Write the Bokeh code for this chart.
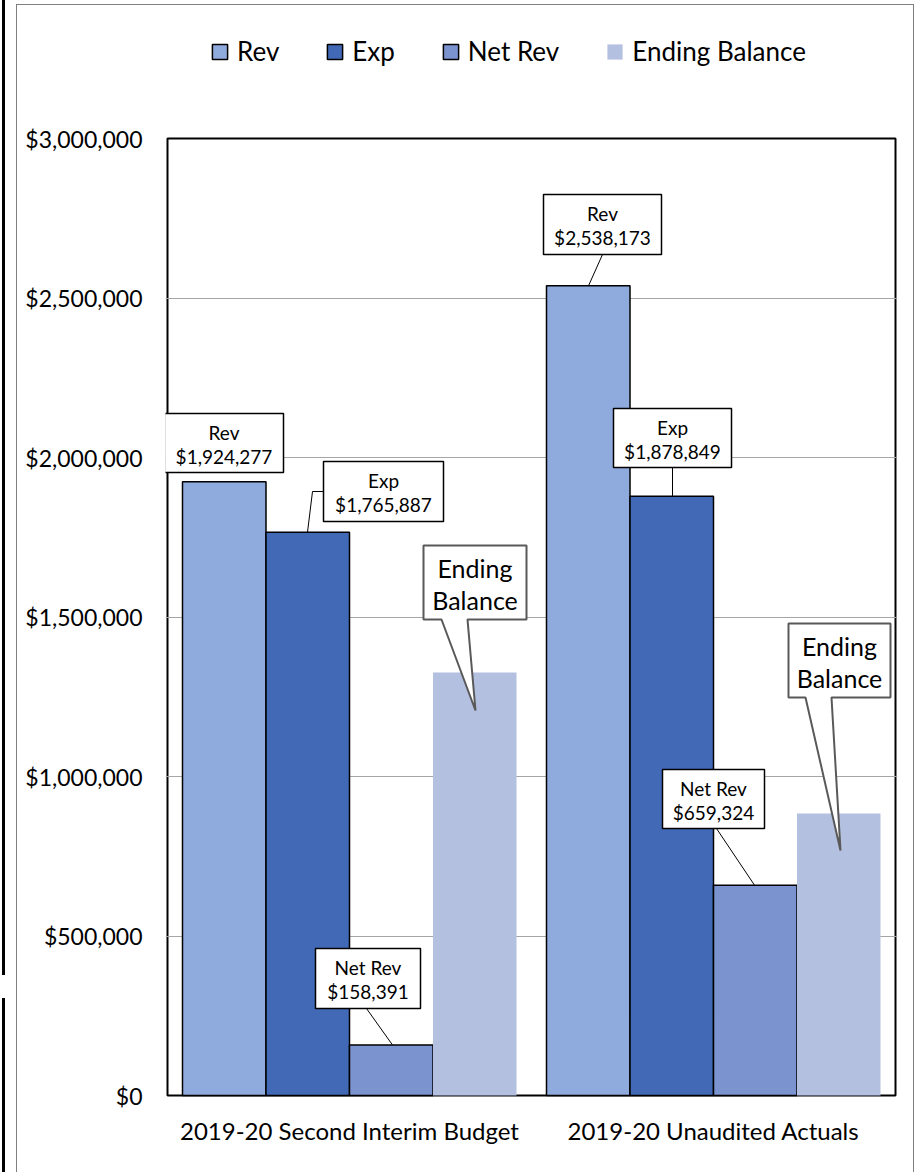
from bokeh.plotting import figure
from bokeh.models import (Range1d, FixedTicker, NumeralTickFormatter, Legend, LegendItem,
                          InlineStyleSheet)
from bokeh.core.properties import value
from bokeh.embed import file_html
from bokeh.resources import INLINE

# ---------------- data ----------------
categories = ["2019-20 Second Interim Budget", "2019-20 Unaudited Actuals"]
series = ["Rev", "Exp", "Net Rev", "Ending Balance"]
rev = [1924277, 2538173]
exp = [1765887, 1878849]
net_rev = [158391, 659324]
ending_balance = [1326000, 884000]
y_ticks = [0, 500000, 1000000, 1500000, 2000000, 2500000, 3000000]
colors = ["#8FAADC", "#4169B6", "#7B94D0", "#B4C0E0"]

# ---------------- layout ----------------
W, H = 917, 1172
PL, PR, PT, PB = 167, 895, 138, 1095      # plot-area box (data 0..2, 0..3M)
FL, FR, FT, FB = 165, 897, 0, 1097        # bokeh frame (a bit larger)
YMAX = 3000000
FONT = "Lato"
kx = (PR - PL) / 2.0
ky = (PB - PT) / YMAX

def dx(px):
    return (px - PL) / kx

def dy(py):
    return (PB - py) / ky

p = figure(width=W, height=H,
           x_range=Range1d(dx(FL), dx(FR)), y_range=Range1d(dy(FB), dy(FT)),
           output_backend="svg", toolbar_location=None,
           min_border_left=FL, min_border_right=W - FR,
           min_border_top=FT, min_border_bottom=H - FB)
p.background_fill_color = "white"
p.border_fill_color = "white"
p.outline_line_color = None

centers = [0.5 + i for i in range(len(categories))]
bw = 0.2294
all_vals = [rev, exp, net_rev, ending_balance]

# plot area outline
p.quad(left=[0], right=[2], bottom=[0], top=[YMAX], fill_color=None,
       line_color="black", line_width=2, level="underlay")

renderers = []
for k, (name, vals, col) in enumerate(zip(series, all_vals, colors)):
    xs = [c + (k - 1.5) * bw for c in centers]
    r = p.vbar(x=xs, top=vals, width=bw, fill_color=col,
               line_color=None if name == "Ending Balance" else "black",
               line_width=1.5)
    renderers.append(r)

# axes
p.yaxis.ticker = FixedTicker(ticks=y_ticks)
p.yaxis.formatter = NumeralTickFormatter(format="$0,0")
p.yaxis.major_label_text_font = FONT
p.yaxis.major_label_text_font_size = "23px"
p.yaxis.major_label_text_color = "black"
p.yaxis.major_label_standoff = 23
p.yaxis.major_tick_line_color = None
p.yaxis.minor_tick_line_color = None
p.yaxis.axis_line_color = None
p.yaxis.major_tick_out = 0
p.yaxis.major_tick_in = 0

p.xaxis.ticker = FixedTicker(ticks=centers)
p.xaxis.major_label_overrides = {c: cat for c, cat in zip(centers, categories)}
p.xaxis.major_label_text_font = FONT
p.xaxis.major_label_text_font_size = "24px"
p.xaxis.major_label_text_color = "black"
p.xaxis.major_label_standoff = 18
p.xaxis.major_tick_line_color = None
p.xaxis.minor_tick_line_color = None
p.xaxis.axis_line_color = None
p.xaxis.major_tick_out = 0
p.xaxis.major_tick_in = 0

p.xgrid.visible = False
p.ygrid.ticker = FixedTicker(ticks=y_ticks[1:-1])
p.ygrid.grid_line_color = "#A6A6A6"
p.ygrid.grid_line_width = 1
p.ygrid.bounds = (0, 2)

# ---------------- callouts ----------------
boxes = [
    (164, 283, 413, 472, ["Rev", f"${rev[0]:,}"]),
    (323, 443, 461, 521, ["Exp", f"${exp[0]:,}"]),
    (315, 420, 948, 1008, ["Net Rev", f"${net_rev[0]:,}"]),
    (543, 661, 194, 254, ["Rev", f"${rev[1]:,}"]),
    (613, 731, 408, 467, ["Exp", f"${exp[1]:,}"]),
    (662, 764, 769, 828, ["Net Rev", f"${net_rev[1]:,}"]),
]
leaders = [
    ([(323, 491), (312, 491)], 307, exp[0]),
    ([(366, 1008)], 392, net_rev[0]),
    ([(602, 254)], 588, rev[1]),
    ([(672, 467)], 672, exp[1]),
    ([(716, 828)], 754, net_rev[1]),
]
for pts, ex, ev in leaders:
    xs = [dx(a) for a, b in pts] + [dx(ex)]
    ys = [dy(b) for a, b in pts] + [ev]
    p.line(xs, ys, line_color="black", line_width=1)

p.quad(left=[dx(b[0]) for b in boxes], right=[dx(b[1]) for b in boxes],
       top=[dy(b[2]) for b in boxes], bottom=[dy(b[3]) for b in boxes],
       fill_color="white", line_color="black", line_width=1.5)

tx, ty, tt = [], [], []
for l, r_, t, b, lines in boxes:
    cx = (l + r_) / 2
    tx += [dx(cx), dx(cx)]
    ty += [dy(t + 19), dy(t + 43)]
    tt += lines
p.text(x=tx, y=ty, text=tt, text_font=value(FONT), text_font_size="19px",
       text_align="center", text_baseline="middle", text_color="black")

wedges = [
    (423, 526, 545, 619, 441, 467, (475, 710)),
    (788, 890, 623, 697, 805, 831, (840, 850)),
]
ex_, ey_, et_ = [], [], []
for l, r_, t, b, x1, x2, tip in wedges:
    px_ = [l, r_, r_, x2, tip[0], x1, l]
    py_ = [t, t, b, b, tip[1], b, b]
    p.patch([dx(v) for v in px_], [dy(v) for v in py_], fill_color="white",
            line_color="#595959", line_width=2)
    cx = (l + r_) / 2
    ex_ += [dx(cx), dx(cx)]
    ey_ += [dy(t + 22), dy(t + 54)]
    et_ += ["Ending", "Balance"]
p.text(x=ex_, y=ey_, text=et_, text_font=value(FONT), text_font_size="25px",
       text_align="center", text_baseline="middle", text_color="black")

# ---------------- legend ----------------
leg = Legend(items=[LegendItem(label=n, renderers=[r]) for n, r in zip(series, renderers)],
             location=(210 - FL, FB - 36 - 31), orientation="horizontal",
             glyph_width=19, glyph_height=19, label_standoff=8, spacing=46,
             label_text_font=FONT, label_text_font_size="26px",
             label_text_color="black",
             padding=0, margin=0, border_line_color=None,
             background_fill_alpha=0)
p.add_layout(leg, "center")

# ---------------- outer chart border and page edge (CSS) ----------------
css = """
:host { position: relative; }
:host::after { content: ""; position: absolute; left: 16px; top: 4px; width: 898px; height: 1168px;
  border: 1.5px solid #7F7F7F; border-bottom: none; box-sizing: border-box;
  pointer-events: none; z-index: 10; }
:host::before { content: ""; position: absolute; left: 2px; top: 0px; width: 3px; height: 1172px;
  background: linear-gradient(to bottom, #000 0px, #000 975px, transparent 975px,
                              transparent 998px, #000 998px);
  pointer-events: none; z-index: 10; }
"""
p.stylesheets = [InlineStyleSheet(css=css)]

open("out.html", "w").write(file_html(p, INLINE))
